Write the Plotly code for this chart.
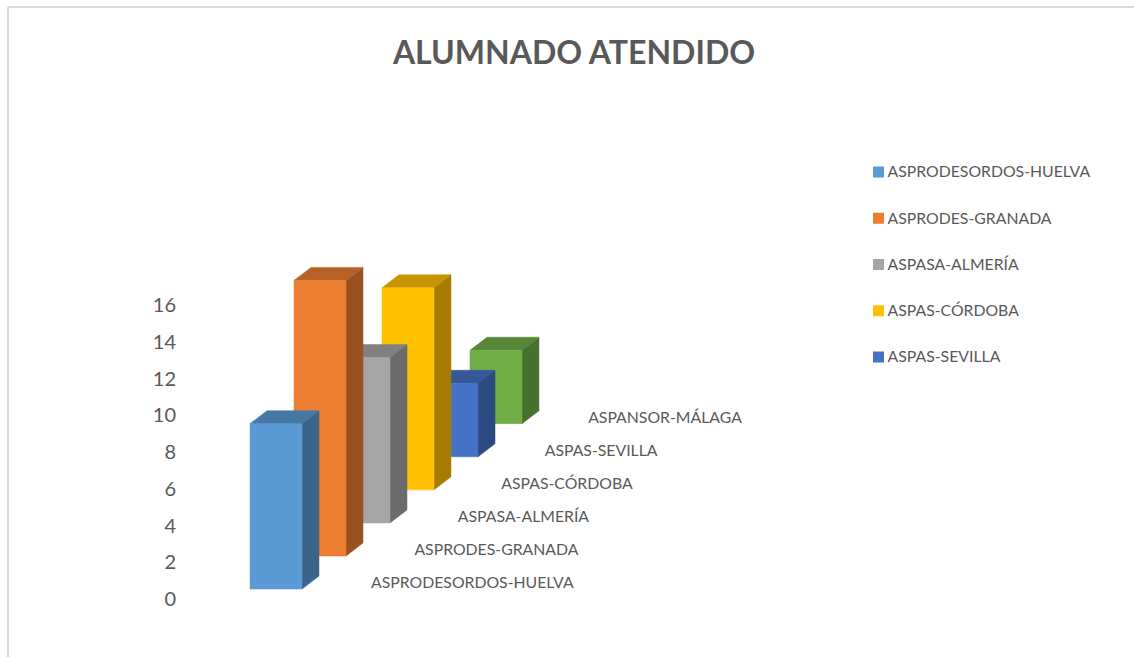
import plotly.graph_objects as go

categories = ["ASPRODESORDOS-HUELVA", "ASPRODES-GRANADA", "ASPASA-ALMERÍA",
              "ASPAS-CÓRDOBA", "ASPAS-SEVILLA", "ASPANSOR-MÁLAGA"]
values = [9, 15, 9, 11, 4, 4]
colors = ["#5B9BD5", "#ED7D31", "#A5A5A5", "#FFC000", "#4472C4", "#70AD47"]
legend_categories = categories[:5]
y_ticks = [0, 2, 4, 6, 8, 10, 12, 14, 16]

TEXT = "#595959"
FONT = "Lato, 'Open Sans', sans-serif"
W, H = 1134, 657
X_LEFT_PX, X_STEP_PX = 250, 44
Y_ZERO_PX, PX_PER_UNIT = 599, 18.375

# oblique projection parameters, in axis units
BAR_W = 52 / X_STEP_PX
SHEAR_X = 17 / X_STEP_PX
SHEAR_Y = 13 / PX_PER_UNIT
BASE0 = 0.54
BASE_STEP = 1.8

# legend block placement, in axis units
LEG_SWATCH_X = (878.5 - X_LEFT_PX) / X_STEP_PX
LEG_TEXT_X = (887.5 - X_LEFT_PX) / X_STEP_PX
LEG_Y0 = (Y_ZERO_PX - 172) / PX_PER_UNIT
LEG_STEP = 46.25 / PX_PER_UNIT
TEXT_DROP = 1.5 / PX_PER_UNIT


def shade(hex_color, f):
    r, g, b = (int(hex_color[i:i + 2], 16) for i in (1, 3, 5))
    return f"rgb({int(r * f)},{int(g * f)},{int(b * f)})"


def poly(xs, ys, color, line, name):
    return go.Scatter(
        x=xs + xs[:1], y=ys + ys[:1], mode="lines", fill="toself", fillcolor=color,
        line=dict(color=line, width=0.5), hoverinfo="skip", showlegend=False, name=name,
    )


fig = go.Figure()

# Back to front so that nearer bars cover the farther ones
for i in reversed(range(len(values))):
    x0, x1 = i, i + BAR_W
    b = BASE0 + BASE_STEP * i
    t = b + values[i]
    c = colors[i]
    name = categories[i]
    fig.add_trace(poly([x1, x1 + SHEAR_X, x1 + SHEAR_X, x1],
                       [b, b + SHEAR_Y, t + SHEAR_Y, t], shade(c, 0.65), shade(c, 0.65), name))
    fig.add_trace(poly([x0, x0 + SHEAR_X, x1 + SHEAR_X, x1],
                       [t, t + SHEAR_Y, t + SHEAR_Y, t], shade(c, 0.78), shade(c, 0.78), name))
    fig.add_trace(poly([x0, x1, x1, x0], [b, b, t, t], c, c, name))

# Category labels along the depth axis
fig.add_trace(go.Scatter(
    x=[i * 0.987 + 2.75 for i in range(len(categories))],
    y=[0.87 - TEXT_DROP + BASE_STEP * i for i in range(len(categories))],
    text=categories, mode="text", textposition="middle right",
    textfont=dict(family=FONT, size=15.8, color=TEXT), hoverinfo="skip", showlegend=False,
))

# Legend block: swatch and text for each listed series
leg_y = [LEG_Y0 - LEG_STEP * i for i in range(len(legend_categories))]
fig.add_trace(go.Scatter(
    x=[LEG_SWATCH_X] * len(legend_categories), y=leg_y, mode="markers",
    marker=dict(symbol="square", size=11, color=colors[:len(legend_categories)]),
    hoverinfo="skip", showlegend=False,
))
fig.add_trace(go.Scatter(
    x=[LEG_TEXT_X] * len(legend_categories), y=[v - TEXT_DROP for v in leg_y],
    text=legend_categories, mode="text", textposition="middle right",
    textfont=dict(family=FONT, size=15.8, color=TEXT), hoverinfo="skip", showlegend=False,
))

fig.update_layout(
    width=W, height=H, autosize=False,
    margin=dict(l=0, r=0, t=0, b=0),
    paper_bgcolor="white", plot_bgcolor="white",
    showlegend=False,
    title=dict(text="<b>ALUMNADO ATENDIDO</b>", x=574 / W, xanchor="center",
               y=1 - 53 / H, yanchor="middle",
               font=dict(family=FONT, size=32, color=TEXT)),
    xaxis=dict(range=[(0 - X_LEFT_PX) / X_STEP_PX, (W - X_LEFT_PX) / X_STEP_PX],
               domain=[0, 1], visible=False, fixedrange=True),
    yaxis=dict(range=[(Y_ZERO_PX - H) / PX_PER_UNIT, Y_ZERO_PX / PX_PER_UNIT],
               domain=[0, 1], anchor="free", position=176 / W,
               tickvals=y_ticks, ticks="", showgrid=False, zeroline=False, showline=False,
               tickfont=dict(family=FONT, size=20, color=TEXT), fixedrange=True),
    shapes=[
        dict(type="line", xref="paper", yref="paper", x0=8 / W, x1=1, y0=1 - 7 / H, y1=1 - 7 / H,
             line=dict(color="#D9D9D9", width=2)),
        dict(type="line", xref="paper", yref="paper", x0=8 / W, x1=8 / W, y0=0, y1=1 - 7 / H,
             line=dict(color="#D9D9D9", width=2)),
    ],
)

fig.write_html("out.html", config={"displayModeBar": False},
               post_script="document.body.style.margin = '0';")
